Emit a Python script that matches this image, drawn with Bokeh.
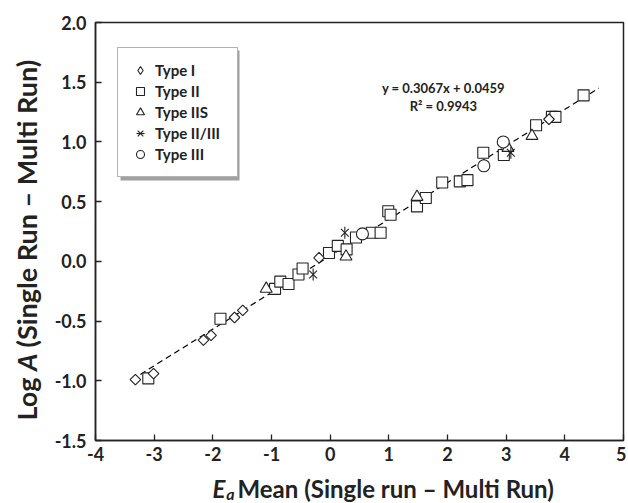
from bokeh.plotting import figure
from bokeh.models import Range1d, FixedTicker, Label, Legend, LegendItem, BoxAnnotation
from bokeh.layouts import row, column
from bokeh.embed import file_html
from bokeh.resources import INLINE
import math

# ---------------- data ----------------
type1_x = [-3.32, -3.01, -2.16, -2.03, -1.63, -1.49, -0.19, 3.73]
type1_y = [-0.99, -0.94, -0.66, -0.62, -0.47, -0.41, 0.03, 1.19]

type2_x = [-3.10, -1.87, -0.94, -0.85, -0.71, -0.54, -0.47, -0.02, 0.13, 0.28,
           0.44, 0.71, 0.86, 0.99, 1.03, 1.48, 1.63, 1.91, 2.21, 2.34,
           2.61, 2.96, 3.51, 3.78, 3.84, 4.32]
type2_y = [-0.98, -0.48, -0.23, -0.17, -0.19, -0.11, -0.06, 0.07, 0.13, 0.10,
           0.20, 0.24, 0.24, 0.42, 0.39, 0.46, 0.53, 0.66, 0.67, 0.68,
           0.91, 0.89, 1.14, 1.21, 1.21, 1.39]

type2s_x = [-1.09, 0.27, 1.48, 3.03, 3.44]
type2s_y = [-0.23, 0.04, 0.54, 0.95, 1.05]

type23_x = [-0.29, 0.25, 3.08]
type23_y = [-0.11, 0.24, 0.91]

type3_x = [0.55, 2.62, 2.95]
type3_y = [0.23, 0.80, 1.00]

fit_slope = 0.3067
fit_intercept = 0.0459
fit_r2 = 0.9943
fit_x = [-3.38, 4.58]
fit_y = [fit_slope * v + fit_intercept for v in fit_x]

x_ticks = [-4, -3, -2, -1, 0, 1, 2, 3, 4, 5]
x_tick_labels = ["-4", "-3", "-2", "-1", "0", "1", "2", "3", "4", "5"]
y_ticks = [-1.5, -1.0, -0.5, 0.0, 0.5, 1.0, 1.5, 2.0]
y_tick_labels = ["-1.5", "-1.0", "-0.5", "0.0", "0.5", "1.0", "1.5", "2.0"]

series_names = ["Type I", "Type II", "Type IIS", "Type II/III", "Type III"]

# ---------------- layout sizes ----------------
FONT = "Lato"
INK = "#222222"
LEFT_W = 44          # strip holding the y-axis title
MAIN_H = 468
BOTTOM_H = 34        # strip holding the x-axis title
TOTAL_H = MAIN_H + BOTTOM_H

p = figure(frame_width=528, frame_height=418,
           min_border_left=51, min_border_right=3,
           min_border_top=22, min_border_bottom=MAIN_H - 22 - 418,
           x_range=Range1d(-4, 5), y_range=Range1d(-1.5, 2.0),
           output_backend="svg", toolbar_location=None)
p.background_fill_color = "white"
p.border_fill_color = "white"
p.outline_line_color = INK
p.outline_line_width = 1.5
p.xgrid.visible = False
p.ygrid.visible = False

for ax, ticks, labels in ((p.xaxis[0], x_ticks, x_tick_labels),
                          (p.yaxis[0], y_ticks, y_tick_labels)):
    ax.ticker = FixedTicker(ticks=ticks)
    ax.major_label_overrides = {t: l for t, l in zip(ticks, labels)}
    ax.minor_tick_line_color = None
    ax.major_tick_in = 6
    ax.major_tick_out = 0
    ax.major_tick_line_color = INK
    ax.major_tick_line_width = 1.3
    ax.axis_line_color = INK
    ax.axis_line_width = 1.5
    ax.major_label_text_font = FONT
    ax.major_label_text_font_style = "bold"
    ax.major_label_text_font_size = "18px"
    ax.major_label_text_color = INK
p.xaxis.major_label_standoff = 6
p.yaxis.major_label_standoff = 9

# fit line
p.line(fit_x, fit_y, line_color="black", line_width=1.2, line_dash="6 4")

common = dict(line_color=INK, fill_color="white", line_width=1.1)
r2 = p.scatter(type2_x, type2_y, marker="square", size=11, **common)
# diamond symbol used for the legend entry (hidden under the rotated squares)
r1_leg = p.scatter(type1_x, type1_y, marker="diamond", size=9.5, **common)
r1 = p.scatter(type1_x, type1_y, marker="square", angle=math.pi / 4, size=7.5, **common)
r2s = p.scatter(type2s_x, type2s_y, marker="triangle", size=12, **common)
r23a = p.scatter(type23_x, type23_y, marker="x", size=11, line_color=INK, line_width=1.1)
r23b = p.scatter(type23_x, type23_y, marker="dash", angle=math.pi / 2, size=12,
                 line_color=INK, line_width=1.1)
r3 = p.scatter(type3_x, type3_y, marker="circle", size=12, **common)

# legend shadow
p.add_layout(BoxAnnotation(left=25, right=144, bottom=260, top=390,
                           left_units="screen", right_units="screen",
                           bottom_units="screen", top_units="screen",
                           fill_color="#a0a0a0", fill_alpha=1.0, line_color=None))

legend = Legend(items=[
    LegendItem(label=series_names[0], renderers=[r1_leg]),
    LegendItem(label=series_names[1], renderers=[r2]),
    LegendItem(label=series_names[2], renderers=[r2s]),
    LegendItem(label=series_names[3], renderers=[r23a, r23b]),
    LegendItem(label=series_names[4], renderers=[r3]),
], location=(22, 263))
legend.label_text_font = FONT
legend.label_text_font_style = "bold"
legend.label_text_font_size = "15px"
legend.label_text_color = INK
legend.label_height = 20
legend.label_width = 70
legend.glyph_height = 20
legend.glyph_width = 20
legend.spacing = 1
legend.padding = 12
legend.margin = 0
legend.label_standoff = 5
legend.border_line_color = "#666666"
legend.border_line_width = 1.5
legend.background_fill_color = "white"
legend.background_fill_alpha = 1.0
p.add_layout(legend, "center")

# equation
eq_style = dict(text_font=FONT, text_font_style="bold", text_font_size="13px",
                text_color=INK, text_align="center", text_baseline="middle")
p.add_layout(Label(x=1.93, y=1.45,
                   text=f"y = {fit_slope:.4f}x + {fit_intercept:.4f}", **eq_style))
p.add_layout(Label(x=1.93, y=1.30, text=f"R\u00b2 = {fit_r2:.4f}", **eq_style))


def strip(w, h):
    f = figure(width=w, height=h, x_range=Range1d(0, 1), y_range=Range1d(0, 1),
               x_axis_type=None, y_axis_type=None,
               min_border_left=0, min_border_right=0, min_border_top=0, min_border_bottom=0,
               output_backend="svg", toolbar_location=None)
    f.outline_line_color = None
    f.background_fill_color = "white"
    f.border_fill_color = "white"
    return f


# x-axis title strip:  E_a Mean (Single run – Multi Run)
bottom = strip(p.frame_width + 51 + 3, BOTTOM_H)
xt = dict(x_units="screen", y_units="screen", text_font=FONT, text_color=INK,
          text_baseline="alphabetic")
bottom.add_layout(Label(x=142, y=14, text="Mean (Single run \u2013 Multi Run)",
                        text_align="left", text_font_size="24px",
                        text_font_style="bold", **xt))
bottom.add_layout(Label(x=139, y=9, text="a", text_align="right",
                        text_font_size="16px", text_font_style="bold italic", **xt))
bottom.add_layout(Label(x=130, y=14, text="E", text_align="right",
                        text_font_size="24px", text_font_style="bold italic", **xt))

# y-axis title strip:  Log A (Single Run – Multi Run)
left = strip(LEFT_W, TOTAL_H)
yt = dict(x_units="screen", y_units="screen", text_font=FONT, text_color=INK,
          text_baseline="middle", angle=math.pi / 2, text_font_size="27px")
left.add_layout(Label(x=26, y=125, text="Log", text_align="right",
                      text_font_style="bold", **yt))
left.add_layout(Label(x=26, y=149, text="A", text_align="right",
                      text_font_style="bold italic", **yt))
left.add_layout(Label(x=26, y=155, text="(Single Run \u2013 Multi Run)",
                      text_align="left", text_font_style="bold", **yt))

layout = row(left, column(p, bottom, spacing=0), spacing=0)

open("out.html", "w").write(file_html(layout, INLINE))
